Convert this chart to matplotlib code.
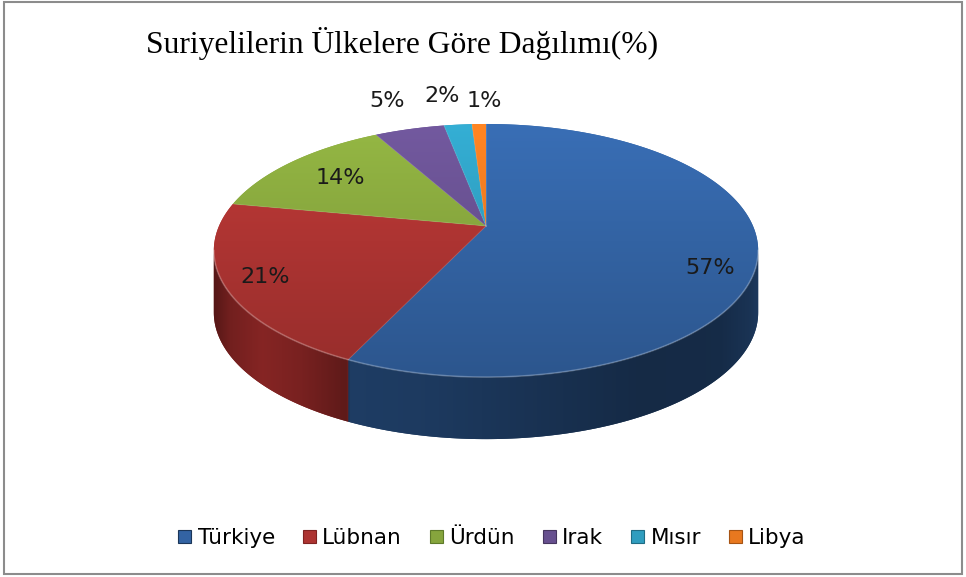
import numpy as np
import matplotlib.pyplot as plt
from matplotlib.patches import Polygon, Rectangle, Patch
from matplotlib.colors import to_rgb

# veriler
ulkeler = ['Türkiye', 'Lübnan', 'Ürdün', 'Irak', 'Mısır', 'Libya']
oranlar = [57, 21, 14, 5, 2, 1]
etiketler = [f'{v}%' for v in oranlar]

# renkler (üst yüz / yan yüz)
renkler = ['#3363a3', '#ad3432', '#86a53d', '#67508f', '#2f9dbf', '#e8781f']
yan_renkler = ['#1b3659', '#7f2322', '#5e7a2a', '#46365f', '#1f6c84', '#a65414']

# etiket yerleşimi (yarıçap çarpanı, açı kaydırma)
etiket_r = [0.85, 0.86, 0.73, 1.36, 1.36, 1.28]
etiket_da = [-9.7, 0, 0, 0, 1.6, -1.5]

# 3B pasta geometrisi (piksel)
CX, CY = 486, 226
SX, SY = 267, 121.8
K = 0.194
DERINLIK = 62


def izdusum(t, r=1.0):
    t = np.radians(t)
    x = r * np.cos(t)
    y = r * np.sin(t)
    d = 1 + K * y
    return CX + SX * x / d, CY - SY * y / d


def gradyan(ax, patch, renk, kutu, f0, f1, egri=None):
    x0, x1, y0, y1 = kutu
    rgb = np.array(to_rgb(renk))
    if egri is not None:
        # yatay gölgelendirme
        xs = np.linspace(x0, x1, 400)
        f = np.interp(xs, egri[0], egri[1])
        img = np.clip(rgb[None, None, :] * f[None, :, None], 0, 1)
    else:
        # dikey gölgelendirme
        f = np.linspace(f0, f1, 256)
        img = np.clip(rgb[None, None, :] * f[:, None, None], 0, 1)
    im = ax.imshow(img, extent=(x0, x1, y1, y0), aspect='auto',
                   interpolation='bilinear', zorder=patch.get_zorder())
    im.set_clip_path(patch)


fig = plt.figure(figsize=(9.66, 5.77), dpi=100)
ax = fig.add_axes([0, 0, 1, 1])
ax.set_xlim(0, 966)
ax.set_ylim(577, 0)
ax.axis('off')

# dilim açıları (saat 12'den saat yönünde)
kum = np.concatenate([[0], np.cumsum(oranlar)]) / sum(oranlar)
baslar = 90 - kum[:-1] * 360
sonlar = 90 - kum[1:] * 360

# ön yüzün görünen yayı
sinir = np.degrees(np.arcsin(K))
on_hi, on_lo = -sinir, -180 + sinir

# yan yüzey
yan_egri = ([214, 230, 262, 300, 346, 350, 420, 520, 640, 720, 750, 758],
            [0.68, 0.9, 1.05, 0.95, 0.74, 1.12, 1.08, 0.95, 0.78, 0.8, 0.95, 1.05])
for i in range(len(oranlar)):
    hi = min(baslar[i], on_hi)
    lo = max(sonlar[i], on_lo)
    if hi <= lo:
        continue
    ts = np.linspace(hi, lo, 120)
    px, py = izdusum(ts)
    noktalar = np.column_stack([np.concatenate([px, px[::-1]]),
                                np.concatenate([py, py[::-1] + DERINLIK])])
    p = Polygon(noktalar, closed=True, facecolor=yan_renkler[i], edgecolor='none', zorder=1)
    ax.add_patch(p)
    gradyan(ax, p, yan_renkler[i], (px.min() - 1, px.max() + 1, 100, 460), 1, 1,
            egri=yan_egri)

# üst yüz
for i in range(len(oranlar)):
    ts = np.linspace(baslar[i], sonlar[i], max(4, int(oranlar[i] * 4)))
    px, py = izdusum(ts)
    noktalar = np.column_stack([np.concatenate([[CX], px]), np.concatenate([[CY], py])])
    p = Polygon(noktalar, closed=True, facecolor=renkler[i], edgecolor='none', zorder=2)
    ax.add_patch(p)
    gradyan(ax, p, renkler[i], (200, 770, 118, 385), 1.12, 0.86)

# üst kenar parlaması
ts = np.linspace(on_hi, on_lo, 200)
px, py = izdusum(ts)
ax.plot(px, py, color='white', alpha=0.25, lw=1.2, zorder=3)

# dilim sınırları
for b in baslar:
    bx, by = izdusum(b)
    ax.plot([CX, bx], [CY, by], color='white', alpha=0.12, lw=0.8, zorder=3)

# etiketler
orta = (baslar + sonlar) / 2
for i, e in enumerate(etiketler):
    lx, ly = izdusum(orta[i] + etiket_da[i], etiket_r[i])
    ax.text(lx, ly, e, ha='center', va='center', fontsize=16,
            family='DejaVu Sans', color='#1a1a1a', zorder=5)

# başlık
ax.text(146, 44, 'Suriyelilerin Ülkelere Göre Dağılımı(%)', ha='left', va='center',
        fontsize=22.7, family='Liberation Serif', color='black')

# gösterge
tutamaclar = [Patch(facecolor=renkler[i], edgecolor=yan_renkler[i], lw=0.8)
              for i in range(len(ulkeler))]
fig.legend(tutamaclar, ulkeler, loc='center', bbox_to_anchor=(492 / 966, 1 - 538 / 577),
           ncol=6, frameon=False, prop={'family': 'DejaVu Sans', 'size': 15.5},
           handlelength=0.6, handleheight=0.6, handletextpad=0.3, columnspacing=1.3)

# çerçeve
fig.patches.append(Rectangle((4 / 966, 3 / 577), 958 / 966, 572 / 577, transform=fig.transFigure,
                             fill=False, edgecolor='#8c8c8c', lw=1.5))

fig.savefig('out.png', dpi=100)
